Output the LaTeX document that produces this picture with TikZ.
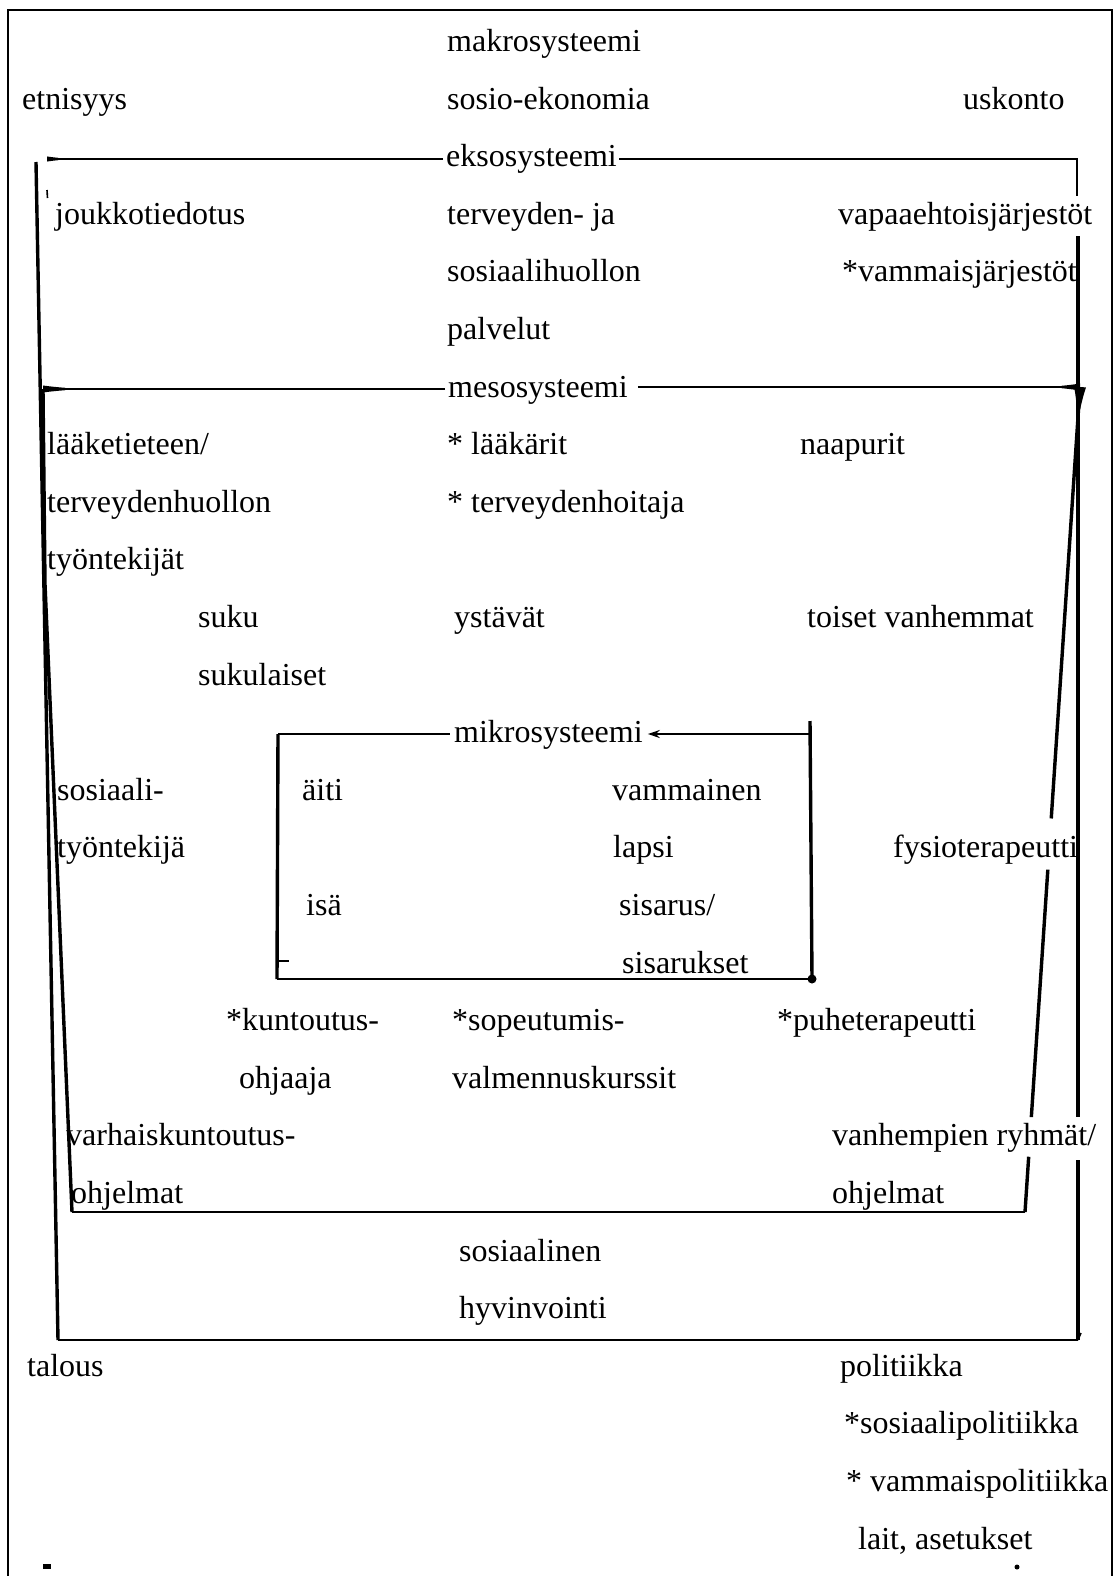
\documentclass[tikz,border=0pt]{standalone}
\usepackage{fontspec}
\setmainfont{Liberation Serif}
\usetikzlibrary{arrows.meta,calc}
\tikzset{
  lbl/.style={anchor=base west, inner sep=0pt},
  thinline/.style={line width=2pt},
  frameline/.style={line width=2.4pt},
  sideline/.style={line width=3.4pt},
}
\begin{document}
\begin{tikzpicture}[x=1pt,y=-1pt,font=\fontsize{32}{38}\selectfont]
  \useasboundingbox (0,0) rectangle (1119,1576);

  % Outer frame
  \coordinate (outBL) at (8,1576);
  \coordinate (outTL) at (8,10);
  \coordinate (outTR) at (1112,10);
  \coordinate (outBR) at (1112,1576);
  \draw[thinline] (outBL) -- (outTL) -- (outTR) -- (outBR);

  % Macro level
  \node[lbl] (makro) at (447,51.5) {makrosysteemi};
  \node[lbl] (etnis) at (22,109.1) {etnisyys};
  \node[lbl] (sosioek) at (447,109.1) {sosio-ekonomia};
  \node[lbl] (uskonto) at (963,109.1) {uskonto};

  % Exo level
  \node[lbl] (eks) at (446,166.7) {eksosysteemi};
  \node[lbl] (joukko) at (55,224.3) {joukkotiedotus};
  \node[lbl] (terv) at (447,224.3) {terveyden- ja};
  \node[lbl] (vapaa) at (838,224.3) {vapaaehtoisjärjestöt};
  \node[lbl] (sosh) at (447,281.9) {sosiaalihuollon};
  \node[lbl] (vammj) at (842,281.9) {*vammaisjärjestöt};
  \node[lbl] (palv) at (447,339.5) {palvelut};

  % Meso level
  \node[lbl] (mes) at (448,397.1) {mesosysteemi};
  \node[lbl] (laake) at (47,454.7) {lääketieteen/};
  \node[lbl] (laakarit) at (447,454.7) {* lääkärit};
  \node[lbl] (naap) at (800,454.7) {naapurit};
  \node[lbl] (tervh) at (47,512.3) {terveydenhuollon};
  \node[lbl] (tervhoit) at (447,512.3) {* terveydenhoitaja};
  \node[lbl] (tyont) at (47,569.9) {työntekijät};
  \node[lbl] (suku) at (198,627.5) {suku};
  \node[lbl] (ystav) at (454,627.5) {ystävät};
  \node[lbl] (toiset) at (807,627.5) {toiset vanhemmat};
  \node[lbl] (sukul) at (198,685.1) {sukulaiset};
  \node[lbl] (sosiaali) at (57,800.3) {sosiaali-};
  \node[lbl] (tyontj) at (57,857.9) {työntekijä};
  \node[lbl] (fysio) at (893,857.9) {fysioterapeutti};
  \node[lbl] (kunt) at (226,1030.7) {*kuntoutus-};
  \node[lbl] (sopeut) at (452,1030.7) {*sopeutumis-};
  \node[lbl] (puhe) at (777,1030.7) {*puheterapeutti};
  \node[lbl] (ohjaaja) at (239,1088.3) {ohjaaja};
  \node[lbl] (valm) at (452,1088.3) {valmennuskurssit};
  \node[lbl] (varh) at (66,1145.9) {varhaiskuntoutus-};
  \node[lbl] (vanhr) at (832,1145.9) {vanhempien ryhmät/};
  \node[lbl] (ohjl) at (71,1203.5) {ohjelmat};
  \node[lbl] (ohjr) at (832,1203.5) {ohjelmat};

  % Micro level
  \node[lbl] (mik) at (454,742.7) {mikrosysteemi};
  \node[lbl] (aiti) at (302,800.3) {äiti};
  \node[lbl] (vamm) at (612,800.3) {vammainen};
  \node[lbl] (lapsi) at (613,857.9) {lapsi};
  \node[lbl] (isa) at (306,915.5) {isä};
  \node[lbl] (sisarus) at (619,915.5) {sisarus/};
  \node[lbl] (sisarukset) at (622,973.1) {sisarukset};

  % Below the exo frame
  \node[lbl] (sosiaalinen) at (459,1261.1) {sosiaalinen};
  \node[lbl] (hyvin) at (459,1318.7) {hyvinvointi};
  \node[lbl] (talous) at (27,1376.3) {talous};
  \node[lbl] (polit) at (840,1376.3) {politiikka};
  \node[lbl] (sospol) at (844,1433.9) {*sosiaalipolitiikka};
  \node[lbl] (vampol) at (846,1491.5) {* vammaispolitiikka};
  \node[lbl] (lait) at (858,1549.1) {lait, asetukset};

  % Exo frame
  \coordinate (exoTL) at (47,159);
  \coordinate (exoTR) at (1077,159);
  \coordinate (exoR1) at (1077,196);
  \coordinate (exoR2) at (1078,236);
  \coordinate (exoR3) at (1078,1117);
  \coordinate (exoR4) at (1078,1160);
  \coordinate (exoBR) at (1078,1340);
  \coordinate (exoBL) at (58,1340);
  \coordinate (exoLT) at (36,162);
  \draw[frameline, -{Latex[reversed,length=40pt,width=5pt]}] ($(exoTL -| eks.west)+(-3,0)$) -- (exoTL);
  \draw[frameline] ($(exoTR -| eks.east)+(2,0)$) -- (exoTR) -- (exoR1);
  \draw[sideline] (exoR2) -- (exoR3);
  \draw[sideline] (exoR4) -- (exoBR);
  \draw[frameline] (exoBR) -- (exoBL);
  \draw[sideline] (exoBL) -- (exoLT);
  \draw[line width=1.5pt] (exoBR) -- ++(3,-7);

  % Meso frame
  \coordinate (mesTL) at (43,389);
  \coordinate (mesTR) at (1080,387);
  \coordinate (mesLK) at (45,584);
  \coordinate (mesBL) at (72,1212);
  \coordinate (mesBR) at (1025,1212);
  \draw[frameline, -{Latex[reversed,length=46pt,width=7pt]}] ($(mesTL -| mes.west)+(-3,0)$) -- (mesTL);
  \draw[frameline, -{Latex[reversed,length=38pt,width=7pt]}] ($(mesTR -| mes.east)+(10,0)$) -- (mesTR);
  \draw[sideline] (mesTL) -- (mesLK) -- (mesBL);
  \draw[frameline] (mesBL) -- (mesBR);
  % right side, broken at the labels
  \draw[sideline] (mesBR) -- ($(mesBR)!0.067!(mesTR)$);
  \draw[sideline] ($(mesBR)!0.115!(mesTR)$) -- ($(mesBR)!0.415!(mesTR)$);
  \draw[sideline, -{Latex[reversed,length=38pt,width=12pt]}] ($(mesBR)!0.477!(mesTR)$) -- (mesTR);

  % Micro frame
  \coordinate (mikTL) at (278,734);
  \coordinate (mikTR) at (810,734);
  \coordinate (mikRT) at (810,721);
  \coordinate (mikBR) at (812,979);
  \coordinate (mikBL) at (277,979);
  \draw[frameline] (mikTL) -- ($(mikTL -| mik.west)+(-4,0)$);
  \draw[frameline, -{Stealth[length=12pt,width=8pt]}] (mikTR) -- ($(mikTR -| mik.east)+(5,0)$);
  \draw[sideline] (mikBL) -- (mikTL);
  \draw[sideline] (mikRT) -- (mikBR);
  \draw[frameline] (mikBR) -- (mikBL);
  \fill (mikBR) circle (4.5pt);
  \draw[frameline] ($(mikBL)+(0,-18)$) -- ++(12,0);

  % Small marks
  \draw[line width=1.6pt] (47,190) -- (47.5,198);
  \fill (43,1564) rectangle (51,1569);
  \fill (1017,1567) circle (2.5pt);
\end{tikzpicture}
\end{document}
